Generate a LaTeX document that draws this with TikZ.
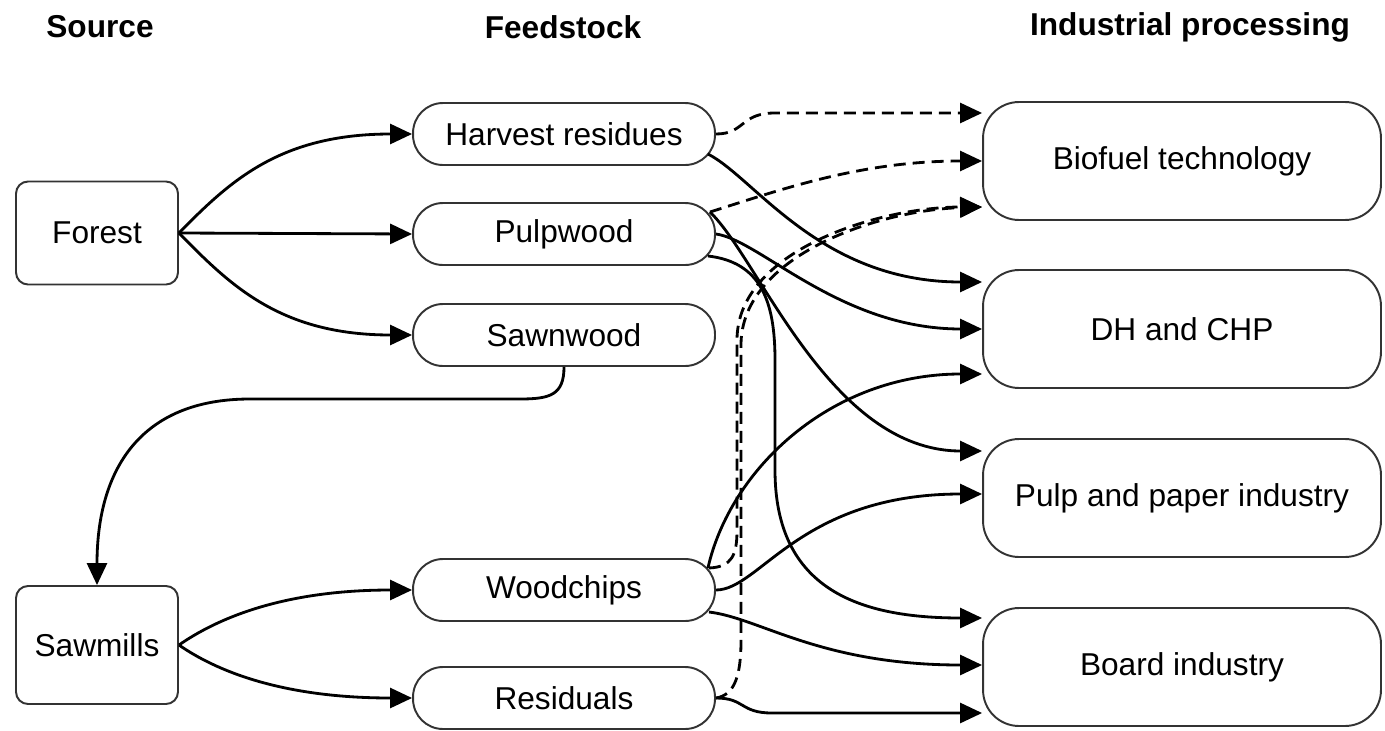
\documentclass[tikz,border=0pt]{standalone}
\usepackage{fontspec}
\setmainfont{Liberation Sans}
\usetikzlibrary{arrows.meta,calc}
\tikzset{
	box/.style={draw=black!80, line width=1.1pt, fill=white, align=center, font=\fontsize{18}{22}\selectfont},
	srcbox/.style={box, rounded corners=0.24cm, minimum width=3.24cm},
	feedbox/.style={box, rounded corners=0.6cm, minimum width=6.04cm, minimum height=1.24cm},
	indbox/.style={box, rounded corners=0.72cm, minimum width=7.96cm, minimum height=2.36cm},
	header/.style={font=\fontsize{18}{22}\selectfont\bfseries},
	flow/.style={line width=1.6pt, -{Triangle[length=0.44cm,width=0.4cm]}},
	altflow/.style={flow, dash pattern=on 0.24cm off 0.14cm},
}

\begin{document}
\begin{tikzpicture}[x=0.02cm, y=-0.02cm]
			%%%%% START %%%%%
			\fill[white] (0,0) rectangle (1385,730);
			\useasboundingbox (0,0) rectangle (1385,730);
			
			\node[header] (hsrc) at (100,27) {Source};
			\node[header] (hfeed) at (563,27) {Feedstock};
			\node[header] (hind) at (1190,27) {Industrial processing};
			
			\node[srcbox, minimum height=2.06cm] (forest) at (97,233) {Forest};
			\node[srcbox, minimum height=2.36cm] (sawmills) at (97,645) {Sawmills};
			
			\node[feedbox] (harvest) at (564,134) {Harvest residues};
			\node[feedbox] (pulpwood) at (564,234) {Pulpwood};
			\node[feedbox] (sawnwood) at (564,335) {Sawnwood};
			\node[feedbox] (woodchips) at (564,590) {Woodchips};
			\node[feedbox] (residuals) at (564,698) {Residuals};
			
			\node[indbox] (bio) at (1182,161) {Biofuel technology};
			\node[indbox] (dhchp) at (1182,329) {DH and CHP};
			\node[indbox] (pulp) at (1182,498) {Pulp and paper industry};
			\node[indbox] (board) at (1182,667) {Board industry};
			
			% source -> feedstock
			\draw[flow] (forest.east) .. controls (230,181) and (280,134) .. (harvest.west);
			\draw[flow] (forest.east) -- (pulpwood.west);
			\draw[flow] (forest.east) .. controls (230,285) and (280,335) .. (sawnwood.west);
			\draw[flow] (sawnwood.south) .. controls (564,395) and (550,399) .. (520,399) -- (250,399) .. controls (140,399) and (97,470) .. (sawmills.north);
			\draw[flow] (sawmills.east) .. controls (215,620) and (280,590) .. (woodchips.west);
			\draw[flow] (sawmills.east) .. controls (215,670) and (280,698) .. (residuals.west);
			
			% feedstock -> industry
			\draw[altflow] (harvest.east) .. controls (745,134) and (740,113) .. (775,113) -- ($(bio.west)+(0,-48)$);
			\draw[flow] ($(harvest.east)+(-8,20)$) .. controls (755,178) and (820,282) .. ($(dhchp.west)+(0,-47)$);
			\draw[altflow] ($(pulpwood.east)+(-6,-22)$) .. controls (780,190) and (860,161) .. (bio.west);
			\draw[flow] (pulpwood.east) .. controls (760,240) and (840,329) .. (dhchp.west);
			\draw[flow] ($(pulpwood.east)+(-6,-22)$) .. controls (760,260) and (830,451) .. ($(pulp.west)+(0,-47)$);
			\draw[flow] ($(pulpwood.east)+(-8,22)$) .. controls (760,262) and (775,300) .. (775,360) -- (775,470) .. controls (775,590) and (860,618) .. ($(board.west)+(0,-49)$);
			\draw[flow] ($(woodchips.east)+(-8,-22)$) .. controls (730,470) and (830,374) .. ($(dhchp.west)+(0,45)$);
			\draw[flow] (woodchips.east) .. controls (760,590) and (800,494) .. ($(pulp.west)+(0,-4)$);
			\draw[flow] ($(woodchips.east)+(-7,22)$) .. controls (760,618) and (820,665) .. ($(board.west)+(0,-2)$);
			\draw[flow] (residuals.east) .. controls (745,698) and (740,713) .. (772,713) -- ($(board.west)+(0,46)$);
			\draw[altflow] ($(woodchips.east)+(-7,-22)$) .. controls (732,567) and (737,555) .. (737,530) -- (737,340) .. controls (737,250) and (880,207) .. ($(bio.west)+(0,46)$);
			\draw[altflow] (residuals.east) .. controls (735,695) and (741,675) .. (741,640) -- (741,345) .. controls (741,255) and (880,210) .. ($(bio.west)+(0,46)$);
			
			%%%%% END %%%%%
\end{tikzpicture}
\end{document}
